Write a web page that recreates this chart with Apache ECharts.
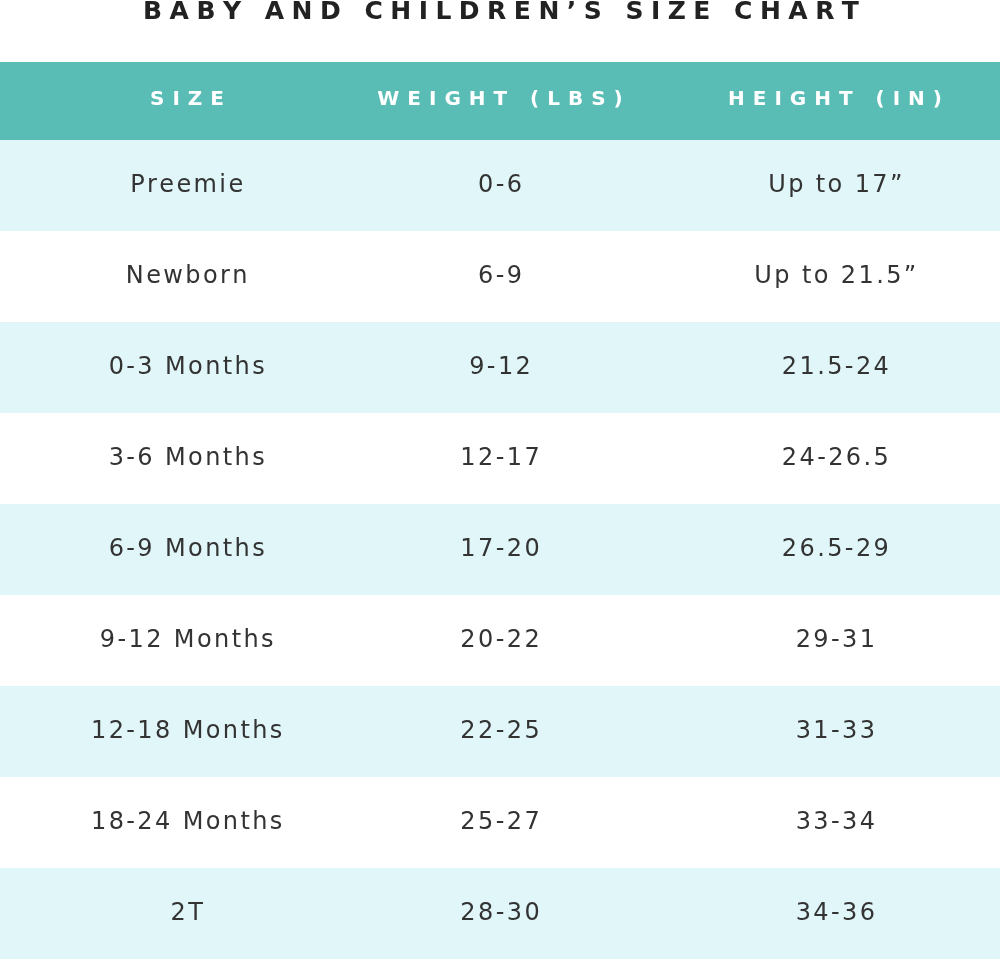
<!DOCTYPE html>
<html>
<head>
<meta charset="utf-8">
<script src="https://cdn.jsdelivr.net/npm/echarts@6/dist/echarts.min.js"></script>
<style>html,body{margin:0;padding:0;background:#fff}#main{width:1000px;height:960px}</style>
</head>
<body>
<div id="main"></div>
<script>
var title = "BABY AND CHILDREN’S SIZE CHART";
var headers = ["SIZE", "WEIGHT (LBS)", "HEIGHT (IN)"];
var sizes = ["Preemie", "Newborn", "0-3 Months", "3-6 Months", "6-9 Months", "9-12 Months", "12-18 Months", "18-24 Months", "2T"];
var weights = ["0-6", "6-9", "9-12", "12-17", "17-20", "20-22", "22-25", "25-27", "28-30"];
var heights = ["Up to 17”", "Up to 21.5”", "21.5-24", "24-26.5", "26.5-29", "29-31", "31-33", "33-34", "34-36"];

function spaced(s, gap) { return s.split('').join(gap); }

var chart = echarts.init(document.getElementById('main'));
var cells = [];
sizes.forEach(function (s, i) {
  cells.push([0, i, s]);
  cells.push([1, i, weights[i]]);
  cells.push([2, i, heights[i]]);
});
var colShift = [20, 0, 2];

chart.setOption({
  backgroundColor: '#ffffff',
  animation: false,
  grid: { left: 0, right: 0, top: 140, bottom: 1 },
  xAxis: { type: 'category', data: headers, show: false },
  yAxis: { type: 'category', data: sizes, inverse: true, show: false },
  graphic: [
    { type: 'rect', left: 0, top: 62, shape: { width: 1000, height: 78 }, style: { fill: '#59BDB6' } },
    { type: 'text', x: 501, y: 12, style: { text: spaced(title, '\u2009\u200A'), font: '600 25px "DejaVu Sans", sans-serif', fill: '#222', align: 'center', verticalAlign: 'middle' } }
  ].concat(headers.map(function (h, j) {
    return { type: 'text', x: [187, 500, 835][j], y: 100,
      style: { text: spaced(h, '\u2009\u2009'), font: 'bold 20px "DejaVu Sans", sans-serif', fill: '#fff', align: 'center', verticalAlign: 'middle' } };
  })),
  series: [{
    type: 'custom',
    data: cells,
    renderItem: function (params, api) {
      var col = api.value(0), row = api.value(1);
      var p = api.coord([col, row]);
      var bw = api.size([1, 1]);
      var children = [];
      if (col === 0) {
        children.push({ type: 'rect', shape: { x: 0, y: p[1] - bw[1] / 2, width: 1000, height: bw[1] },
          style: { fill: row % 2 === 0 ? '#E1F6F8' : '#ffffff' } });
      }
      children.push({ type: 'text', x: p[0] + colShift[col], y: p[1],
        style: { text: spaced(cells[params.dataIndex][2], '\u200A'), font: '24px "DejaVu Sans", sans-serif', fill: '#333', align: 'center', verticalAlign: 'middle' } });
      return { type: 'group', children: children };
    }
  }]
});
</script>
</body>
</html>
